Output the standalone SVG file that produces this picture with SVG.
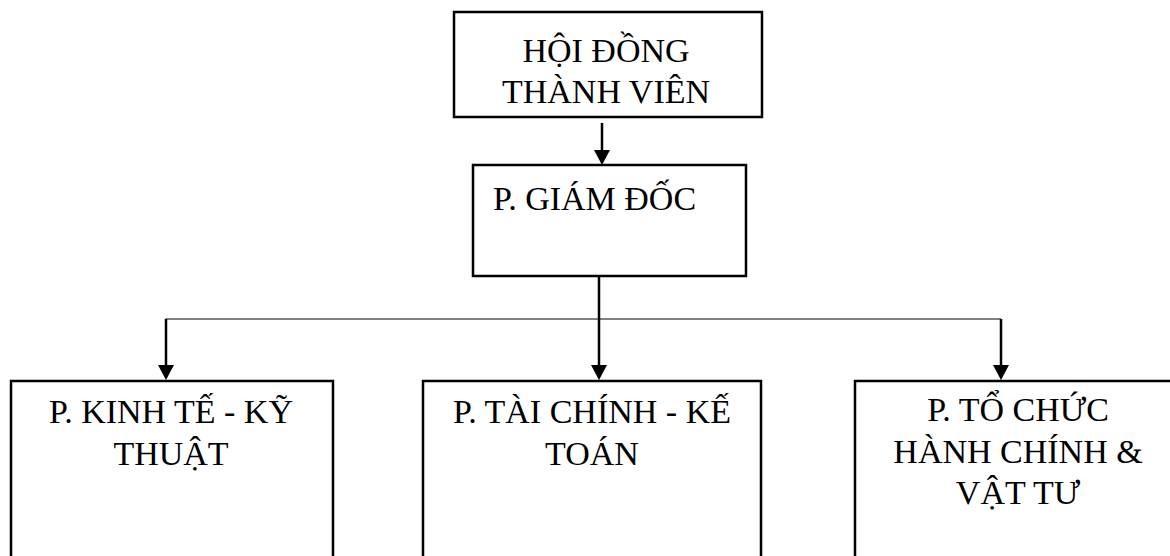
<svg xmlns="http://www.w3.org/2000/svg" width="1170" height="556" viewBox="0 0 1170 556">
<style>
.box{fill:#fff;stroke:#000;stroke-width:2.5}
.t{font-family:"Liberation Serif","Times New Roman",serif;font-size:34px;fill:#000;text-anchor:middle}
.c{stroke:#000;stroke-width:2.5;fill:none}
.h{stroke:#000;stroke-width:1.2;fill:none}
</style>
<g id="connectors">
<line class="c" x1="602" y1="123" x2="602" y2="150"/>
<path d="M594,150 L610,150 L602,165 z" fill="#000"/>
<line class="c" x1="599" y1="276" x2="599" y2="365"/>
<path d="M591,365 L607,365 L599,380 z" fill="#000"/>
<line class="h" x1="165.5" y1="319" x2="1001" y2="319"/>
<line class="c" x1="166" y1="319" x2="166" y2="365"/>
<path d="M158,365 L174,365 L166,380 z" fill="#000"/>
<line class="c" x1="1001" y1="319" x2="1001" y2="365"/>
<path d="M993,365 L1009,365 L1001,380 z" fill="#000"/>
</g>
<g id="hdtv">
<rect class="box" x="454" y="12" width="308" height="105"/>
<text class="t" x="606" y="62">HỘI ĐỒNG</text>
<text class="t" x="606" y="103">THÀNH VIÊN</text>
</g>
<g id="giamdoc">
<rect class="box" x="473" y="165" width="273" height="111"/>
<text class="t" x="493" y="210" style="text-anchor:start">P. GIÁM ĐỐC</text>
</g>
<g id="kinhte">
<rect class="box" x="11" y="381" width="322" height="190"/>
<text class="t" x="171" y="423">P. KINH TẾ - KỸ</text>
<text class="t" x="171" y="465">THUẬT</text>
</g>
<g id="taichinh">
<rect class="box" x="423" y="381" width="338" height="190"/>
<text class="t" x="592" y="423">P. TÀI CHÍNH - KẾ</text>
<text class="t" x="592" y="465">TOÁN</text>
</g>
<g id="tochuc">
<rect class="box" x="855" y="381" width="330" height="190"/>
<text class="t" x="1018" y="421">P. TỔ CHỨC</text>
<text class="t" x="1018" y="463">HÀNH CHÍNH &amp;</text>
<text class="t" x="1018" y="504">VẬT TƯ</text>
</g>
</svg>
